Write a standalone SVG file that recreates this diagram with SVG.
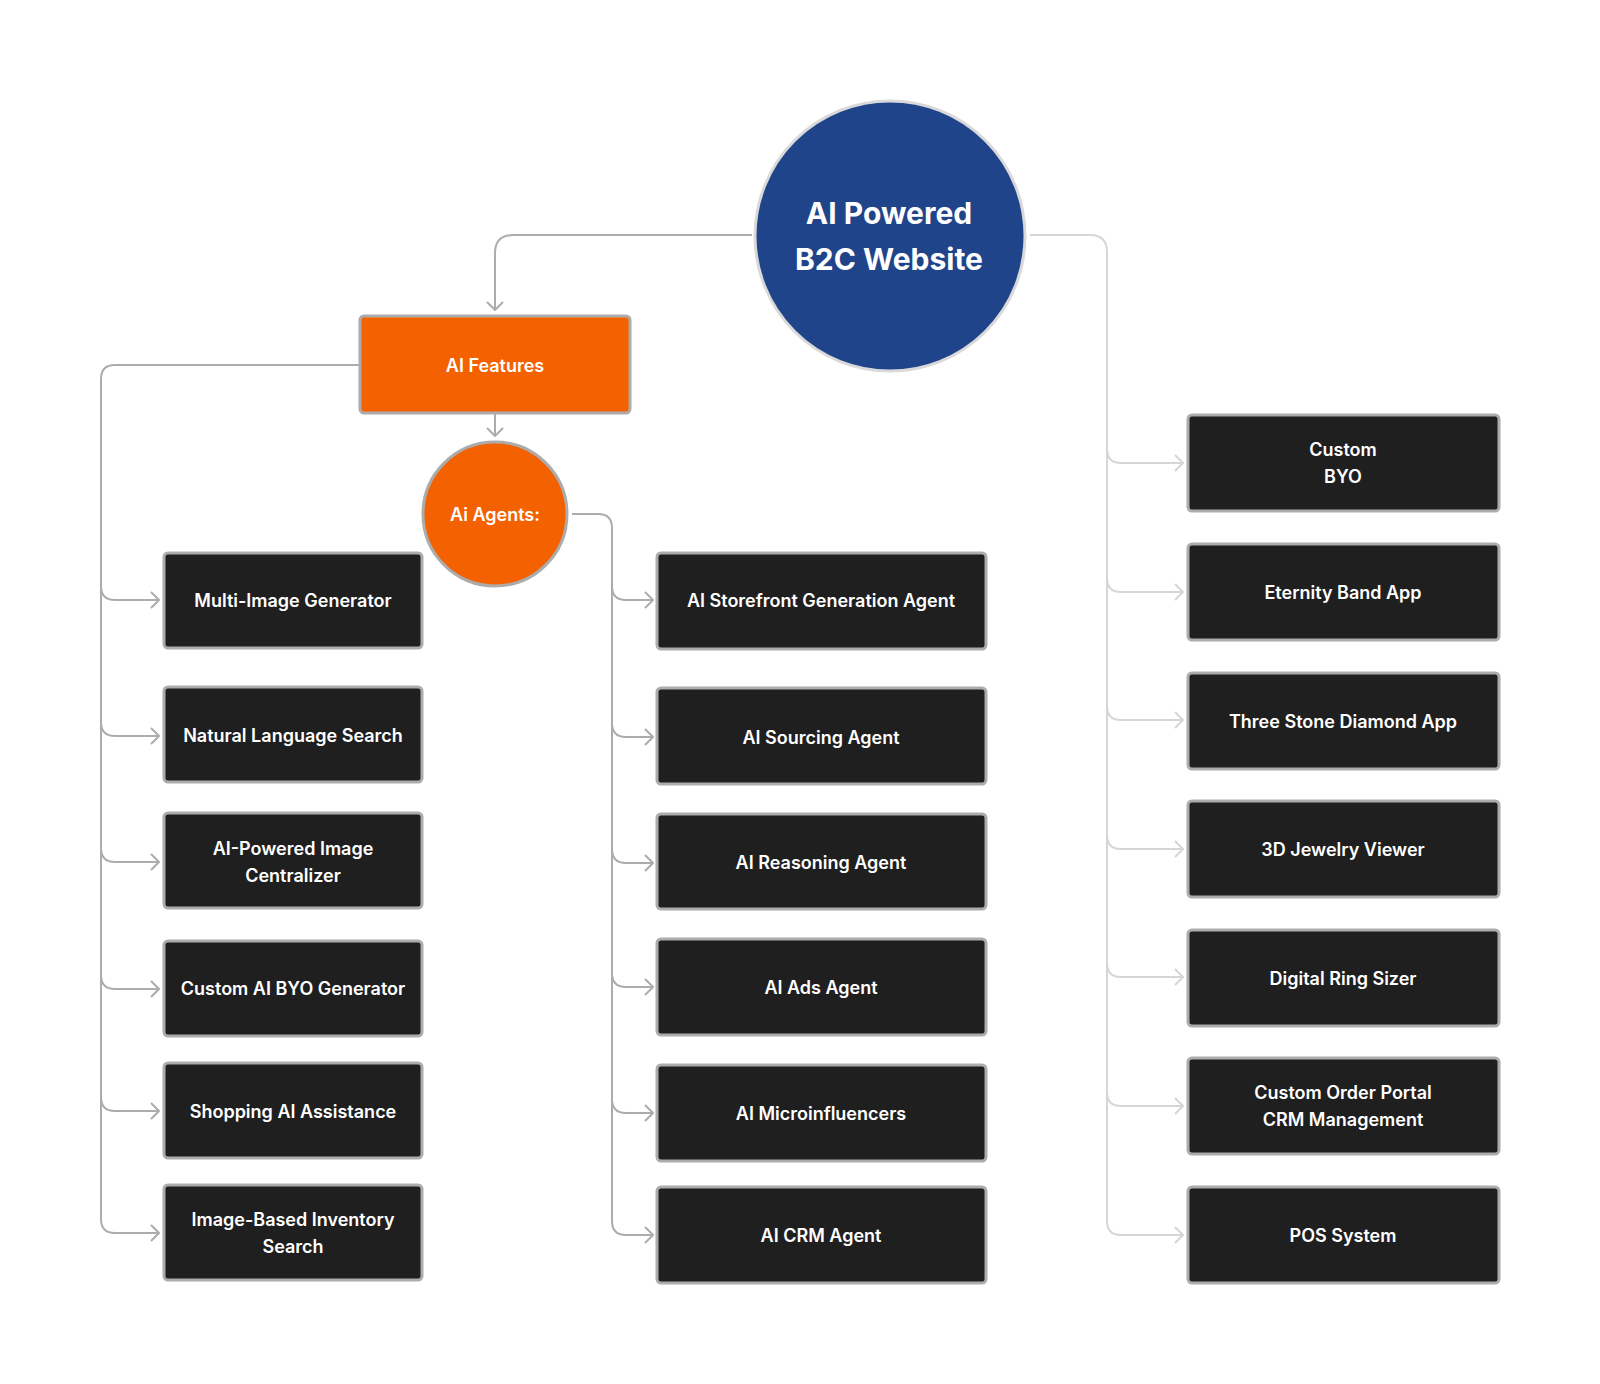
<svg xmlns="http://www.w3.org/2000/svg" width="1600" height="1384" viewBox="0 0 1600 1384">
<defs>
<style>
.box{fill:#1f1f1f;stroke:#acacac;stroke-width:3}
.t{font-family:Inter,"Liberation Sans",sans-serif;font-weight:600;font-size:18px;fill:#ffffff;text-anchor:middle}
.c1{fill:none;stroke:#acacac;stroke-width:2}
.c2{fill:none;stroke:#d6d6d6;stroke-width:2}
</style>
<marker id="a1" markerUnits="userSpaceOnUse" viewBox="0 0 10 18" markerWidth="10" markerHeight="18" refX="9" refY="9" orient="auto">
<path d="M1,1 L9,9 L1,17" fill="none" stroke="#acacac" stroke-width="2"/>
</marker>
<marker id="a2" markerUnits="userSpaceOnUse" viewBox="0 0 10 18" markerWidth="10" markerHeight="18" refX="9" refY="9" orient="auto">
<path d="M1,1 L9,9 L1,17" fill="none" stroke="#d6d6d6" stroke-width="2"/>
</marker>
</defs>
<rect width="1600" height="1384" fill="#ffffff"/>
<g id="connectors">
<path class="c1" d="M752,235 H513 Q495,235 495,253 V310" marker-end="url(#a1)"/>
<path class="c1" d="M495,414 V436" marker-end="url(#a1)"/>
<path class="c1" d="M359,365 H115 Q101,365 101,379 V1219 Q101,1233 115,1233 H159" marker-end="url(#a1)"/>
<path class="c1" d="M101,586 Q101,600 115,600 H159" marker-end="url(#a1)"/>
<path class="c1" d="M101,722 Q101,736 115,736 H159" marker-end="url(#a1)"/>
<path class="c1" d="M101,848 Q101,862 115,862 H159" marker-end="url(#a1)"/>
<path class="c1" d="M101,975 Q101,989 115,989 H159" marker-end="url(#a1)"/>
<path class="c1" d="M101,1097 Q101,1111 115,1111 H159" marker-end="url(#a1)"/>
<path class="c1" d="M572,514 H598 Q612,514 612,528 V1221 Q612,1235 626,1235 H653" marker-end="url(#a1)"/>
<path class="c1" d="M612,586 Q612,600 626,600 H653" marker-end="url(#a1)"/>
<path class="c1" d="M612,723 Q612,737 626,737 H653" marker-end="url(#a1)"/>
<path class="c1" d="M612,849 Q612,863 626,863 H653" marker-end="url(#a1)"/>
<path class="c1" d="M612,973 Q612,987 626,987 H653" marker-end="url(#a1)"/>
<path class="c1" d="M612,1099 Q612,1113 626,1113 H653" marker-end="url(#a1)"/>
<path class="c2" d="M1030,235 H1090 Q1107,235 1107,252 V1221 Q1107,1235 1121,1235 H1183" marker-end="url(#a2)"/>
<path class="c2" d="M1107,449 Q1107,463 1121,463 H1183" marker-end="url(#a2)"/>
<path class="c2" d="M1107,578 Q1107,592 1121,592 H1183" marker-end="url(#a2)"/>
<path class="c2" d="M1107,706 Q1107,720 1121,720 H1183" marker-end="url(#a2)"/>
<path class="c2" d="M1107,835 Q1107,849 1121,849 H1183" marker-end="url(#a2)"/>
<path class="c2" d="M1107,963 Q1107,977 1121,977 H1183" marker-end="url(#a2)"/>
<path class="c2" d="M1107,1092 Q1107,1106 1121,1106 H1183" marker-end="url(#a2)"/>
</g>
<g id="root">
<circle cx="890" cy="236" r="135" fill="#1f4489" stroke="#d9d9d9" stroke-width="3"/>
<text x="889" y="224" font-family="Inter,'Liberation Sans',sans-serif" font-weight="700" font-size="30" fill="#ffffff" text-anchor="middle">AI Powered</text>
<text x="889" y="270" font-family="Inter,'Liberation Sans',sans-serif" font-weight="700" font-size="30" fill="#ffffff" text-anchor="middle">B2C Website</text>
</g>
<g id="ai-features">
<rect x="360" y="316" width="270" height="97" rx="4" fill="#f46100" stroke="#acacac" stroke-width="3"/>
<text class="t" x="495" y="372">AI Features</text>
</g>
<g id="ai-agents">
<circle cx="495" cy="514" r="72" fill="#f46100" stroke="#acacac" stroke-width="3"/>
<text class="t" x="495" y="521">Ai Agents:</text>
</g>
<g id="n-multi-image"><rect class="box" x="164" y="553" width="258" height="95" rx="4"/><text class="t" x="293" y="607">Multi-Image Generator</text></g>
<g id="n-nls"><rect class="box" x="164" y="687" width="258" height="95" rx="4"/><text class="t" x="293" y="742">Natural Language Search</text></g>
<g id="n-image-centralizer"><rect class="box" x="164" y="813" width="258" height="95" rx="4"/><text class="t" x="293" y="855">AI-Powered Image</text><text class="t" x="293" y="882">Centralizer</text></g>
<g id="n-byo-generator"><rect class="box" x="164" y="941" width="258" height="95" rx="4"/><text class="t" x="293" y="995">Custom AI BYO Generator</text></g>
<g id="n-shopping"><rect class="box" x="164" y="1063" width="258" height="95" rx="4"/><text class="t" x="293" y="1118">Shopping AI Assistance</text></g>
<g id="n-inventory"><rect class="box" x="164" y="1185" width="258" height="95" rx="4"/><text class="t" x="293" y="1226">Image-Based Inventory</text><text class="t" x="293" y="1253">Search</text></g>
<g id="n-storefront"><rect class="box" x="657" y="553" width="329" height="96" rx="4"/><text class="t" x="821" y="607">AI Storefront Generation Agent</text></g>
<g id="n-sourcing"><rect class="box" x="657" y="688" width="329" height="96" rx="4"/><text class="t" x="821" y="744">AI Sourcing Agent</text></g>
<g id="n-reasoning"><rect class="box" x="657" y="814" width="329" height="95" rx="4"/><text class="t" x="821" y="869">AI Reasoning Agent</text></g>
<g id="n-ads"><rect class="box" x="657" y="939" width="329" height="96" rx="4"/><text class="t" x="821" y="994">AI Ads Agent</text></g>
<g id="n-micro"><rect class="box" x="657" y="1065" width="329" height="96" rx="4"/><text class="t" x="821" y="1120">AI Microinfluencers</text></g>
<g id="n-crm-agent"><rect class="box" x="657" y="1187" width="329" height="96" rx="4"/><text class="t" x="821" y="1242">AI CRM Agent</text></g>
<g id="n-custom-byo"><rect class="box" x="1188" y="415" width="311" height="96" rx="4"/><text class="t" x="1343" y="456">Custom</text><text class="t" x="1343" y="483">BYO</text></g>
<g id="n-eternity"><rect class="box" x="1188" y="544" width="311" height="96" rx="4"/><text class="t" x="1343" y="599">Eternity Band App</text></g>
<g id="n-three-stone"><rect class="box" x="1188" y="673" width="311" height="96" rx="4"/><text class="t" x="1343" y="728">Three Stone Diamond App</text></g>
<g id="n-3d-viewer"><rect class="box" x="1188" y="801" width="311" height="96" rx="4"/><text class="t" x="1343" y="856">3D Jewelry Viewer</text></g>
<g id="n-ring-sizer"><rect class="box" x="1188" y="930" width="311" height="96" rx="4"/><text class="t" x="1343" y="985">Digital Ring Sizer</text></g>
<g id="n-order-portal"><rect class="box" x="1188" y="1058" width="311" height="96" rx="4"/><text class="t" x="1343" y="1099">Custom Order Portal</text><text class="t" x="1343" y="1126">CRM Management</text></g>
<g id="n-pos"><rect class="box" x="1188" y="1187" width="311" height="96" rx="4"/><text class="t" x="1343" y="1242">POS System</text></g>
</svg>
